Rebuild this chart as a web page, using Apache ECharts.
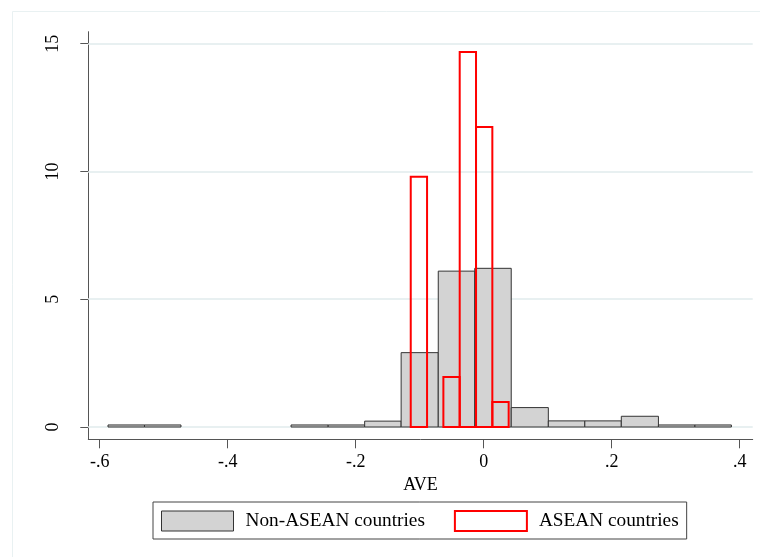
<!DOCTYPE html>
<html>
<head>
<meta charset="utf-8">
<script src="https://cdn.jsdelivr.net/npm/echarts@6/dist/echarts.min.js"></script>
<style>
html,body{margin:0;padding:0;background:#fff;}
#chart{width:760px;height:557px;}
</style>
</head>
<body>
<div id="chart"></div>
<script>
// Non-ASEAN histogram: bin edges and densities
const nonAseanEdges = [-0.587, -0.530, -0.473, -0.415, -0.358, -0.301, -0.243, -0.186, -0.129, -0.071, -0.014, 0.043, 0.101, 0.158, 0.215, 0.273, 0.330, 0.387];
const nonAseanDensity = [0.08, 0.08, 0, 0, 0, 0.08, 0.08, 0.23, 2.91, 6.10, 6.21, 0.76, 0.24, 0.24, 0.42, 0.08, 0.08];
// ASEAN histogram: bin edges and densities
const aseanEdges = [-0.114, -0.0885, -0.063, -0.0375, -0.012, 0.0135, 0.039];
const aseanDensity = [9.79, 0, 1.96, 14.68, 11.74, 0.98];
// Axis ticks
const xTickValues = [-0.6, -0.4, -0.2, 0, 0.2, 0.4];
const xTickLabels = ['-.6', '-.4', '-.2', '0', '.2', '.4'];
const yTickValues = [0, 5, 10, 15];
const yTickLabels = ['0', '5', '10', '15'];
const seriesNames = ['Non-ASEAN countries', 'ASEAN countries'];
const xAxisTitle = 'AVE';

function binsToData(edges, dens) {
  const out = [];
  for (let i = 0; i < dens.length; i++) {
    if (dens[i] > 0) out.push([edges[i], edges[i + 1], dens[i]]);
  }
  return out;
}

function makeRender(style) {
  return function (params, api) {
    const x0 = api.value(0), x1 = api.value(1), y = api.value(2);
    const p0 = api.coord([x0, y]);
    const p1 = api.coord([x1, 0]);
    return {
      type: 'rect',
      shape: { x: p0[0], y: p0[1], width: p1[0] - p0[0], height: p1[1] - p0[1] },
      style: style
    };
  };
}

const FONT = 'Liberation Serif';
const chart = echarts.init(document.getElementById('chart'), null, { renderer: 'canvas' });

chart.setOption({
  backgroundColor: '#ffffff',
  animation: false,
  textStyle: { fontFamily: FONT, color: '#000' },
  graphic: [{
    type: 'rect',
    shape: { x: 12.5, y: 11.5, width: 800, height: 600 },
    style: { fill: 'none', stroke: '#e9f1f2', lineWidth: 1 },
    silent: true, z: -10
  }],
  grid: { left: 88.3, right: 7.3, top: 31.7, bottom: 117.7 },
  legend: {
    left: 153, top: 502,
    orient: 'horizontal',
    padding: [8, 8, 7, 8],
    itemWidth: 72, itemHeight: 20, itemGap: 29,
    icon: 'rect',
    borderColor: '#444', borderWidth: 1,
    textStyle: { fontFamily: FONT, fontSize: 19.3, lineHeight: 20, color: '#000', padding: [0, 0, 0, 7] },
    data: [
      { name: seriesNames[0], itemStyle: { color: '#d3d3d3', borderColor: '#333', borderWidth: 1 } },
      { name: seriesNames[1], itemStyle: { color: '#ffffff', borderColor: '#ff0000', borderWidth: 2 } }
    ]
  },
  xAxis: {
    type: 'value',
    min: -0.6178, max: 0.4203,
    position: 'bottom',
    name: xAxisTitle,
    nameLocation: 'middle',
    nameGap: 31,
    nameTextStyle: { fontFamily: FONT, fontSize: 18, color: '#000' },
    axisLine: { show: true, onZero: false, lineStyle: { color: '#555', width: 1 } },
    axisTick: { show: true, length: 9, customValues: xTickValues, lineStyle: { color: '#555', width: 1 } },
    axisLabel: {
      customValues: xTickValues, margin: 14,
      fontFamily: FONT, fontSize: 18, color: '#000',
      formatter: function (v) {
        for (let i = 0; i < xTickValues.length; i++) if (Math.abs(xTickValues[i] - v) < 1e-9) return xTickLabels[i];
        return '';
      }
    },
    splitLine: { show: false }
  },
  yAxis: {
    type: 'value',
    min: -0.481, max: 15.47,
    axisLine: { show: true, onZero: false, lineStyle: { color: '#555', width: 1 } },
    axisTick: { show: true, length: 8, customValues: yTickValues, lineStyle: { color: '#555', width: 1 } },
    axisLabel: {
      customValues: yTickValues, margin: 26, rotate: 90,
      fontFamily: FONT, fontSize: 18, color: '#000',
      formatter: function (v) {
        for (let i = 0; i < yTickValues.length; i++) if (Math.abs(yTickValues[i] - v) < 1e-9) return yTickLabels[i];
        return '';
      }
    },
    splitLine: { show: false }
  },
  series: [
    {
      name: seriesNames[0],
      type: 'custom',
      renderItem: makeRender({ fill: '#d3d3d3', stroke: '#333', lineWidth: 1 }),
      itemStyle: { color: '#d3d3d3', borderColor: '#333', borderWidth: 1 },
      encode: { x: [0, 1], y: 2 },
      data: binsToData(nonAseanEdges, nonAseanDensity),
      z: 2,
      markLine: {
        silent: true, symbol: 'none', label: { show: false },
        lineStyle: { color: '#e8f0f1', width: 2, type: 'solid' },
        data: yTickValues.map(function (v) { return { yAxis: v }; }),
        z: 1
      }
    },
    {
      name: seriesNames[1],
      type: 'custom',
      renderItem: makeRender({ fill: 'none', stroke: '#ff0000', lineWidth: 2 }),
      itemStyle: { color: '#ffffff', borderColor: '#ff0000', borderWidth: 2 },
      encode: { x: [0, 1], y: 2 },
      data: binsToData(aseanEdges, aseanDensity),
      z: 3
    }
  ]
});
</script>
</body>
</html>
